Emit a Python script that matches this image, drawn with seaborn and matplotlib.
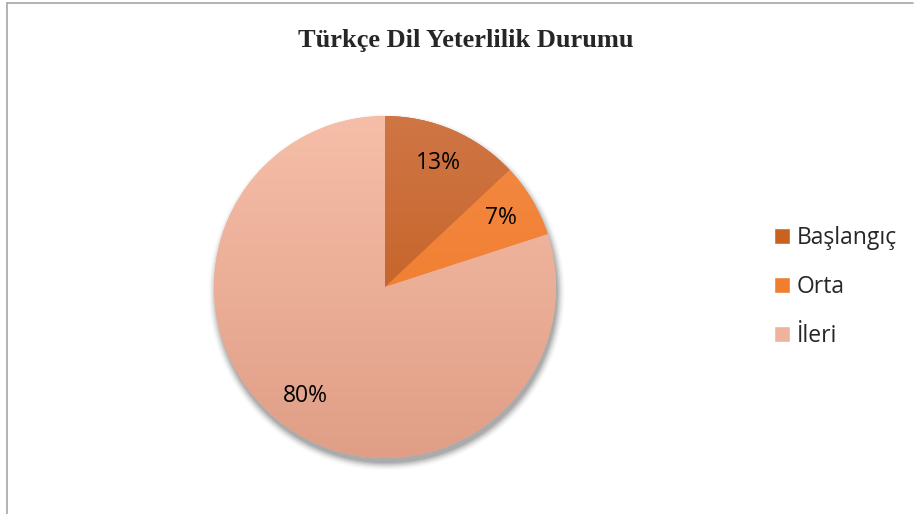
import numpy as np
import matplotlib
matplotlib.use("Agg")
import matplotlib.pyplot as plt
import matplotlib.colors as mcolors
from matplotlib.patches import Circle
from matplotlib.lines import Line2D
import seaborn as sns

categories = ["Başlangıç", "Orta", "İleri"]
values = [13, 7, 80]
top_colors = ["#CF7645", "#F48A45", "#F6BEA8"]
bottom_colors = ["#BF5613", "#EE7621", "#E09E86"]
legend_colors = ["#C8631F", "#F07E2E", "#EFB39B"]

sns.set_theme(style="white")
plt.rcParams['font.family'] = ['Open Sans', 'DejaVu Sans']

fig = plt.figure(figsize=(9.14, 5.14), dpi=100)
W, H = 914, 514
cx, cy, r = 385, 287, 171
ax = fig.add_axes([(cx - r) / W, (H - cy - r) / H, 2 * r / W, 2 * r / H])

wedges, texts, autotexts = ax.pie(
    values, startangle=90, counterclock=False, radius=1,
    colors=legend_colors, autopct="%1.0f%%", pctdistance=0.79,
    wedgeprops=dict(linewidth=0), textprops=dict(fontsize=16.5, color="black"))
ax.set_aspect("equal")
ax.axis("off")

# soft shadow under the pie
for i, a in enumerate(np.linspace(0.09, 0.015, 7)):
    ax.add_patch(Circle((0.01, -0.03), 1.0 + 0.007 * i, color="black",
                        alpha=a, lw=0, zorder=0, clip_on=False))

# vertical gradient fill per slice
for w, c1, c2 in zip(wedges, top_colors, bottom_colors):
    cmap = mcolors.LinearSegmentedColormap.from_list("g", [c2, c1])
    grad = np.linspace(0, 1, 256).reshape(-1, 1)
    im = ax.imshow(grad, cmap=cmap, extent=[-1, 1, -1, 1], origin="lower",
                   aspect="auto", zorder=1.5)
    im.set_clip_path(w)
for t in autotexts:
    t.set_zorder(3)
ax.set_xlim(-1, 1)
ax.set_ylim(-1, 1)

fig.text(466 / W, 1 - 41 / H, "Türkçe Dil Yeterlilik Durumu", ha="center",
         va="center", fontsize=19, fontweight="bold", family="Liberation Serif")

handles = [Line2D([0], [0], marker="s", color="w", markerfacecolor=c,
                  markersize=11.5, linestyle="") for c in legend_colors]
fig.legend(handles, categories, loc="center left",
           bbox_to_anchor=(757 / W, 1 - 287 / H), frameon=False,
           fontsize=16.5, labelspacing=1.1, handletextpad=0.05,
           handlelength=1.2, borderpad=0)

# chart frame (top and left edges visible)
fig.add_artist(Line2D([7 / W, 913 / W], [1 - 3 / H, 1 - 3 / H],
                      color="#A6A6A6", lw=1.2, transform=fig.transFigure))
fig.add_artist(Line2D([7 / W, 7 / W], [0, 1 - 3 / H],
                      color="#A6A6A6", lw=1.2, transform=fig.transFigure))

fig.savefig("out.png", dpi=100)
